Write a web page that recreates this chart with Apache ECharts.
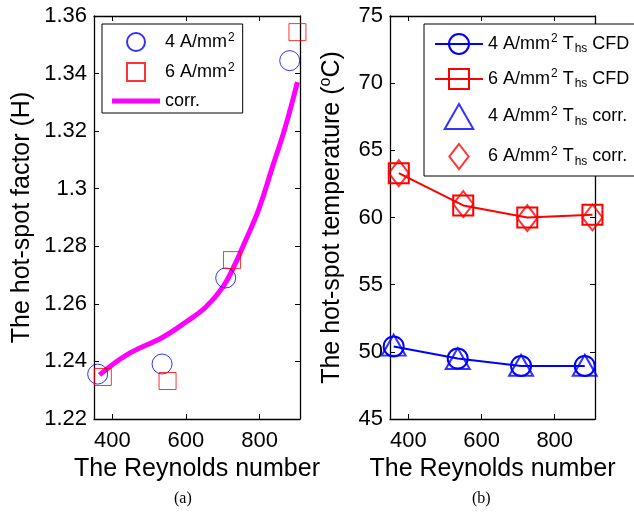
<!DOCTYPE html>
<html>
<head>
<meta charset="utf-8">
<script src="https://cdn.jsdelivr.net/npm/echarts@6/dist/echarts.min.js"></script>
<style>
  html, body { margin: 0; padding: 0; background: #fff; }
  #main { width: 634px; height: 519px; }
</style>
</head>
<body>
<div id="main"></div>
<script>
// (a) hot-spot factor
const re4 = [360, 535, 708, 882];
const re6 = [374, 550, 725, 903];
const h4 = [1.2356, 1.2391, 1.269, 1.3445];
const h6 = [1.2346, 1.2332, 1.2752, 1.3544];
const reCorr = [365, 438, 538, 600, 654, 700, 735, 754, 797, 835, 870, 903];
const hCorr = [1.2353, 1.2422, 1.2485, 1.2537, 1.2589, 1.2658, 1.2742, 1.2797, 1.2926, 1.3075, 1.3214, 1.337];

// (b) hot-spot temperature
const t4cfd = [50.4, 49.5, 48.95, 48.95];
const t6cfd = [63.3, 60.9, 60.0, 60.2];
const t4corr = [50.5, 49.5, 49.0, 49.0];
const t6corr = [63.3, 61.0, 59.95, 60.0];

const xTicks = [400, 600, 800];

const font = 'Liberation Sans, Arial, sans-serif';
const pair = (xs, ys) => xs.map((x, i) => [x, ys[i]]);

let chart = echarts.init(document.getElementById('main'))

const supRich = {
  sup: { fontSize: 12, verticalAlign: 'top', padding: [0, 0, 8, 1], fontFamily: font, color: '#000' },
  sub: { fontSize: 12, padding: [10, 0, 0, 1], fontFamily: font, color: '#000' },
  t: { fontSize: 18, fontFamily: font, color: '#000' }
};

const legendText = {
  '4 A/mm2': '{t|4 A/mm}{sup|2}',
  '6 A/mm2': '{t|6 A/mm}{sup|2}',
  'corr.': '{t|corr.}',
  '4 CFD': '{t|4 A/mm}{sup|2}{t| T}{sub|hs}{t| CFD}',
  '6 CFD': '{t|6 A/mm}{sup|2}{t| T}{sub|hs}{t| CFD}',
  '4 corr': '{t|4 A/mm}{sup|2}{t| T}{sub|hs}{t| corr.}',
  '6 corr': '{t|6 A/mm}{sup|2}{t| T}{sub|hs}{t| corr.}'
};

// legend icons that keep their shape
const icSquare = 'path://M0,0L10,0L10,10L0,10Z';
const icBar = 'path://M0,0L48,0L48,5L0,5Z';
const icTri = 'path://M12,0L24,21L0,21Z';
const icDiamond = 'path://M10,0L20,13L10,26L0,13Z';

function xAx(grid, pos, showName) {
  return {
    type: 'value', gridIndex: grid, position: pos, min: 350, max: 910,
    name: showName ? 'The Reynolds number' : '', nameLocation: 'middle', nameGap: 32,
    nameTextStyle: { fontSize: 25, fontFamily: font, color: '#000' },
    axisLine: { show: true, onZero: false, lineStyle: { color: '#000', width: 1.3 } },
    axisTick: { show: true, inside: true, length: 5, customValues: xTicks, lineStyle: { color: '#000' } },
    axisLabel: { show: pos === 'bottom', customValues: xTicks, fontSize: 22, fontFamily: font, color: '#000', margin: 11 },
    splitLine: { show: false }
  };
}

function yAx(grid, pos, min, max, step, name, gap) {
  return {
    type: 'value', gridIndex: grid, position: pos, min: min, max: max, interval: step,
    name: name, nameLocation: 'middle', nameGap: gap,
    nameTextStyle: { fontSize: 25, fontFamily: font, color: '#000', rich: { sup: { fontSize: 16, verticalAlign: 'top', padding: [0, 0, 12, 0], fontFamily: font } } },
    axisLine: { show: true, onZero: false, lineStyle: { color: '#000', width: 1.3 } },
    axisTick: { show: true, inside: true, length: 5, lineStyle: { color: '#000' } },
    axisLabel: { show: pos === 'left', fontSize: 22, fontFamily: font, color: '#000', margin: 7 },
    splitLine: { show: false }
  };
}

chart.setOption({
  animation: false,
  backgroundColor: '#fff',
  grid: [
    { left: 94, top: 16, width: 206, height: 403 },
    { left: 390, top: 16, width: 205, height: 403 }
  ],
  xAxis: [
    xAx(0, 'bottom', true), xAx(0, 'top', false),
    xAx(1, 'bottom', true), xAx(1, 'top', false)
  ],
  yAxis: [
    yAx(0, 'left', 1.22, 1.36, 0.02, 'The hot-spot factor (H)', 59),
    yAx(0, 'right', 1.22, 1.36, 0.02, '', 0),
    yAx(1, 'left', 45, 75, 5, 'The hot-spot temperature ({sup|o}C)', 44),
    yAx(1, 'right', 45, 75, 5, '', 0)
  ],
  legend: [
    {
      data: [
        { name: '4 A/mm2', icon: 'circle' },
        { name: '6 A/mm2', icon: icSquare },
        { name: 'corr.', icon: icBar }
      ],
      orient: 'vertical', left: 102, top: 24,
      itemWidth: 48, itemHeight: 18, itemGap: 10,
      padding: [8, 8, 3, 10],
      symbolKeepAspect: true,
      borderColor: '#000', borderWidth: 1, borderRadius: 0,
      backgroundColor: '#fff',
      formatter: n => legendText[n],
      textStyle: { rich: supRich }
    },
    {
      data: [
        '4 CFD', '6 CFD',
        { name: '4 corr', icon: icTri },
        { name: '6 corr', icon: icDiamond }
      ],
      orient: 'vertical', left: 424, top: 24,
      itemWidth: 48, itemHeight: 25, itemGap: 13,
      padding: [9, 12, 6, 10],
      symbolKeepAspect: true,
      borderColor: '#000', borderWidth: 1, borderRadius: 0,
      backgroundColor: '#fff',
      formatter: n => legendText[n],
      textStyle: { rich: supRich }
    }
  ],
  series: [
    {
      name: 'corr.', type: 'line', xAxisIndex: 0, yAxisIndex: 0,
      data: pair(reCorr, hCorr), smooth: 0.4, symbol: 'none',
      lineStyle: { color: '#ff00ff', width: 5 }, itemStyle: { color: '#ff00ff' }, z: 2
    },
    {
      name: '4 A/mm2', type: 'scatter', xAxisIndex: 0, yAxisIndex: 0,
      data: pair(re4, h4), symbol: 'circle', symbolSize: 20,
      itemStyle: { color: 'rgba(0,0,0,0)', borderColor: '#0000ff', borderWidth: 1 }, z: 3
    },
    {
      name: '6 A/mm2', type: 'scatter', xAxisIndex: 0, yAxisIndex: 0,
      data: pair(re6, h6), symbol: 'rect', symbolSize: 17,
      itemStyle: { color: 'rgba(0,0,0,0)', borderColor: '#ff0000', borderWidth: 1 }, z: 3
    },
    {
      name: '4 CFD', type: 'line', xAxisIndex: 2, yAxisIndex: 2,
      data: pair(re4, t4cfd), symbol: 'circle', symbolSize: 20, showAllSymbol: true,
      lineStyle: { color: '#0000ff', width: 2 },
      itemStyle: { color: 'rgba(0,0,0,0)', borderColor: '#0000ff', borderWidth: 2 }
    },
    {
      name: '6 CFD', type: 'line', xAxisIndex: 2, yAxisIndex: 2,
      data: pair(re6, t6cfd), symbol: 'rect', symbolSize: 20, showAllSymbol: true,
      lineStyle: { color: '#ff0000', width: 2 },
      itemStyle: { color: 'rgba(0,0,0,0)', borderColor: '#ff0000', borderWidth: 2 }
    },
    {
      name: '4 corr', type: 'scatter', xAxisIndex: 2, yAxisIndex: 2,
      data: pair(re4, t4corr), symbol: 'triangle', symbolSize: [24, 21],
      itemStyle: { color: 'rgba(0,0,0,0)', borderColor: '#0000ff', borderWidth: 2 }
    },
    {
      name: '6 corr', type: 'scatter', xAxisIndex: 2, yAxisIndex: 2,
      data: pair(re6, t6corr), symbol: 'diamond', symbolSize: [20, 26],
      itemStyle: { color: 'rgba(0,0,0,0)', borderColor: '#ff0000', borderWidth: 2 }
    }
  ],
  graphic: [
    { type: 'text', left: 174, top: 491, style: { text: '(a)', font: '16px "Liberation Serif", "Times New Roman", serif', fill: '#000' } },
    { type: 'text', left: 472, top: 491, style: { text: '(b)', font: '16px "Liberation Serif", "Times New Roman", serif', fill: '#000' } }
  ]
})
</script>
</body>
</html>
